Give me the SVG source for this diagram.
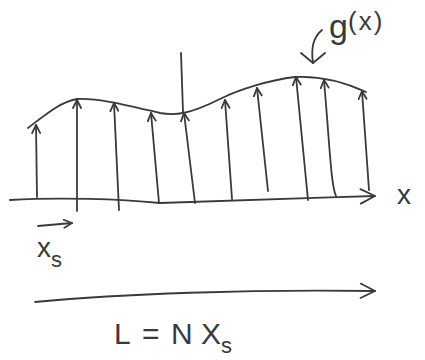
<svg xmlns="http://www.w3.org/2000/svg" width="425" height="360" viewBox="0 0 425 360">
<defs>
<marker id="ah" viewBox="0 0 10 10" refX="9" refY="5" markerWidth="10" markerHeight="10" markerUnits="userSpaceOnUse" orient="auto">
<path d="M1,1 L9,5 L1,9" fill="none" stroke="#3a3a3a" stroke-width="1.8" stroke-linecap="round" stroke-linejoin="round"/>
</marker>
<marker id="ahL" viewBox="0 0 20 20" refX="18" refY="10" markerWidth="18" markerHeight="18" markerUnits="userSpaceOnUse" orient="auto">
<path d="M2,2 L18,10 L2,18" fill="none" stroke="#3a3a3a" stroke-width="2" stroke-linecap="round" stroke-linejoin="round"/>
</marker>
</defs>
<style>
.s{fill:none;stroke:#3a3a3a;stroke-width:1.8;stroke-linecap:round;stroke-linejoin:round}
.t{font-family:"Liberation Sans",Arial,sans-serif;fill:#3a3a3a}
</style>
<rect width="425" height="360" fill="#ffffff"/>
<g id="axis">
<path class="s" d="M10,200 C60,197 120,199 160,203 C220,201 300,198 375,196" marker-end="url(#ahL)"/>
<text class="t" x="397" y="204" font-size="28">x</text>
</g>
<g id="curve">
<path class="s" d="M28,128 C45,115 60,102 77,99 C100,98 130,106 160,113 C175,116 190,114 220,99 C240,89 270,80 295,77 C315,76 340,80 366,92"/>
</g>
<g id="samples">
<path class="s" d="M37,197 L36,125" marker-end="url(#ah)"/>
<path class="s" d="M77,211 L77,100" marker-end="url(#ah)"/>
<path class="s" d="M119,210 L114,103" marker-end="url(#ah)"/>
<path class="s" d="M159,203 L151,113" marker-end="url(#ah)"/>
<path class="s" d="M181,53 L183,112"/>
<path class="s" d="M195,203 L184,113" stroke-width="3" marker-end="url(#ah)"/>
<path class="s" d="M232,199 L225,100" marker-end="url(#ah)"/>
<path class="s" d="M268,191 L257,88" marker-end="url(#ah)"/>
<path class="s" d="M308,200 L296,77" marker-end="url(#ah)"/>
<path class="s" d="M336,196 C331,185 330,150 324,80" marker-end="url(#ah)"/>
<path class="s" d="M369,190 L362,91" marker-end="url(#ah)"/>
</g>
<g id="label-g">
<path class="s" d="M322,30 C312,38 311,50 313,63"/>
<path class="s" d="M301,53 L313,63 L325,53"/>
<text class="t" x="329" y="38" font-size="34">g</text>
<text class="t" x="348" y="30" font-size="26" letter-spacing="2">(x)</text>
</g>
<g id="label-xs">
<path class="s" d="M38,226 L72,223" marker-end="url(#ah)"/>
<text class="t" x="37" y="257" font-size="28">x<tspan font-size="22" dy="10">s</tspan></text>
</g>
<g id="label-L">
<path class="s" d="M35,302 C120,294 250,289 375,291" marker-end="url(#ahL)"/>
<text class="t" y="344" font-size="30"><tspan x="114">L</tspan><tspan x="142">=</tspan><tspan x="171">N</tspan><tspan x="201">X</tspan><tspan font-size="22" dy="9">s</tspan></text>
</g>
</svg>
